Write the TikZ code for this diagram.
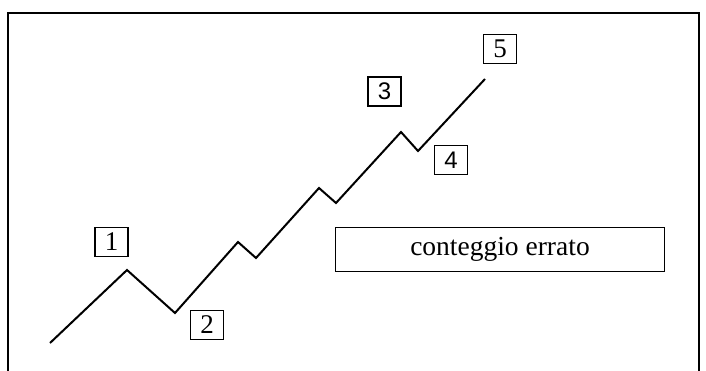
\documentclass[tikz,border=0pt]{standalone}
\usepackage{fontspec}
\setmainfont{Liberation Serif}
\newfontfamily\sansdig{Liberation Sans}
\begin{document}
\begin{tikzpicture}[x=1pt,y=-1pt,
  numbox/.style={draw,line width=1.7pt,minimum width=33pt,minimum height=29pt,inner sep=0pt,font=\fontsize{27}{29}\selectfont},
  labelbox/.style={draw,line width=1.7pt,minimum width=329pt,minimum height=44pt,inner sep=0pt,font=\fontsize{27.5}{30}\selectfont},
  wave/.style={line width=2pt,line join=miter}]
\useasboundingbox (0,0) rectangle (706,370);
\draw[line width=2pt] (8,375) -- (8,13) -- (699,13) -- (699,375);
\coordinate (p0) at (50,343);
\coordinate (p1) at (127,270);
\coordinate (p2) at (175,313);
\coordinate (p3) at (238,242);
\coordinate (p4) at (256,258);
\coordinate (p5) at (319,188);
\coordinate (p6) at (336,203);
\coordinate (p7) at (401,132);
\coordinate (p8) at (418,151);
\coordinate (p9) at (485,79);
\draw[wave] (p0) -- (p1) -- (p2) -- (p3) -- (p4) -- (p5) -- (p6) -- (p7) -- (p8) -- (p9);
\node[numbox] (b1) at (111.5,242) {1};
\node[numbox] (b2) at (207,325) {2};
\node[numbox,font=\fontsize{24}{26}\selectfont\sansdig] (b3) at (384.5,91.5) {3};
\node[numbox,font=\fontsize{24}{26}\selectfont\sansdig] (b4) at (451,160) {4};
\node[numbox] (b5) at (500,49) {5};
\node[labelbox] (lab) at (500,249.5) {conteggio errato};
\end{tikzpicture}
\end{document}
